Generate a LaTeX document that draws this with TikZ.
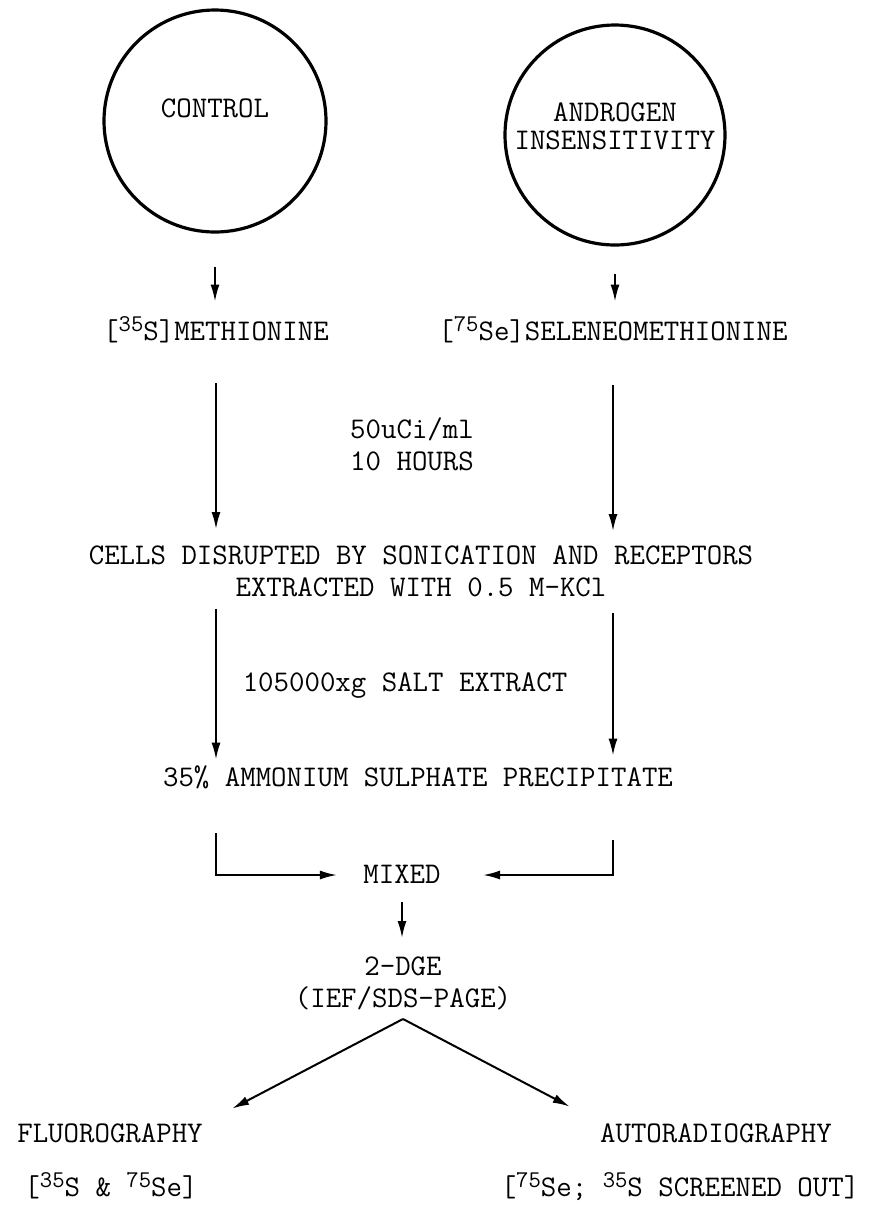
\documentclass[tikz,border=0pt]{standalone}
\usepackage{fontspec}
\usepackage{tikz}
\usetikzlibrary{arrows.meta, positioning, calc}

\newcommand{\iso}[1]{\raisebox{4.5pt}{\fontsize{12}{12}\selectfont #1}}

\begin{document}
\begin{tikzpicture}[x=0.5pt, y=-0.5pt,
    font=\ttfamily\fontsize{15}{16}\selectfont,
    txt/.style={inner sep=0pt, text height=11pt, text depth=3pt},
    twoline/.style={inner sep=0pt, align=center},
    sample/.style={circle, draw, line width=1.6pt, minimum size=#1, inner sep=0pt},
    flow/.style={-{Latex[length=8.5pt, width=4.5pt]}, line width=1pt}]
    \useasboundingbox (0,0) rectangle (892,1207);

    % cell lines
    \node[sample=111pt, label={[name=ctrltxt, yshift=6.5pt]center:CONTROL}] (ctrl) at (215,121) {};
    \node[sample=110pt, label={[name=androtxt, yshift=4.5pt, align=center,
        font=\ttfamily\fontsize{15}{14}\selectfont]center:ANDROGEN\\INSENSITIVITY}] (andro) at (615,135) {};

    % labelling
    \node[txt] (met) at (216,332) {[\iso{35}S]METHIONINE};
    \node[txt] (sel) at (613,332) {[\iso{75}Se]SELENEOMETHIONINE};
    \node[twoline] (rate) at (412,444) {50uCi/ml\\10 HOURS};

    % extraction
    \node[twoline] (cells) at (421,571) {CELLS DISRUPTED BY SONICATION AND RECEPTORS\\EXTRACTED WITH 0.5 M-KCl};
    \node[txt] (salt) at (405,683) {105000xg SALT EXTRACT};
    \node[txt] (ppt) at (418,778) {35\% AMMONIUM SULPHATE PRECIPITATE};
    \node[txt] (mixed) at (402,875) {MIXED};
    \node[twoline] (dge) at (403,983) {2-DGE\\(IEF/SDS-PAGE)};

    % detection
    \node[txt] (fluoro) at (110,1134) {FLUOROGRAPHY};
    \node[txt] (auto) at (716,1134) {AUTORADIOGRAPHY};
    \node[txt] (both) at (111,1188) {[\iso{35}S \& \iso{75}Se]};
    \node[txt] (seonly) at (680,1188) {[\iso{75}Se; \iso{35}S SCREENED OUT]};

    % arrows
    \draw[flow, shorten <=16.5pt, shorten >=8pt] (ctrl.south) -- (ctrl.south |- met.north);
    \draw[flow, shorten <=13.5pt, shorten >=8pt] (andro.south) -- (andro.south |- sel.north);
    \draw[flow, shorten <=18.5pt, shorten >=8pt] (met.south) -- (met.south |- cells.north);
    \draw[flow, shorten <=19.5pt, shorten >=7pt] (sel.south) -- (sel.south |- cells.north);
    \draw[flow, shorten <=6pt, shorten >=2pt] (met |- cells.south) -- (met |- ppt.north);
    \draw[flow, shorten <=8pt, shorten >=4pt] (sel |- cells.south) -- (sel |- ppt.north);
    \draw[flow, shorten <=20.5pt, shorten >=13pt] (met |- ppt.south) |- (mixed);
    \draw[flow, shorten <=24pt, shorten >=21pt] (sel |- ppt.south) |- (mixed);
    \draw[flow, shorten <=6.5pt, shorten >=9pt] (mixed.south) -- (mixed.south |- dge.north);
    \draw[flow] ([yshift=-4.5pt]dge.south) -- ([xshift=14.5pt, yshift=5.5pt]fluoro.north east);
    \draw[flow] ([yshift=-4.5pt]dge.south) -- ([xshift=-15pt, yshift=6.5pt]auto.north west);
\end{tikzpicture}
\end{document}
